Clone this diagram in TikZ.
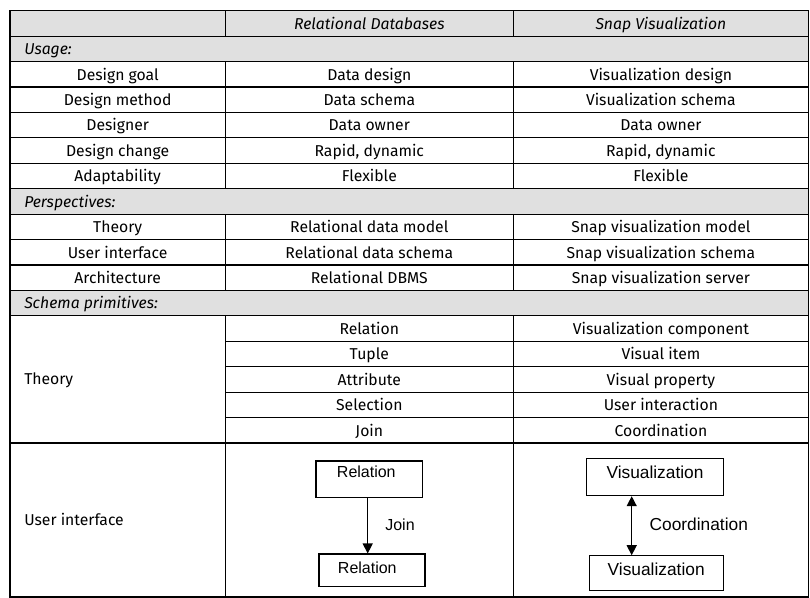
\documentclass[tikz,border=0pt]{standalone}
\usepackage{fontspec}
\setmainfont{Fira Sans}
\newfontfamily\arialf{Liberation Sans}
\usetikzlibrary{arrows.meta}
\definecolor{rowgray}{RGB}{224,224,224}
\begin{document}
\begin{tikzpicture}[x=0.75pt,y=-0.75pt,
  gridline/.style={line width=0.8pt,black},
  cell/.style={anchor=base,inner sep=0pt,font=\fontsize{11.8}{13}\selectfont},
  lcell/.style={cell,anchor=base west},
  icell/.style={cell,font=\fontsize{11.8}{13}\selectfont\itshape},
  licell/.style={icell,anchor=base west},
  box/.style={draw,line width=0.8pt,inner sep=0pt},
  boxtext/.style={inner sep=0pt,font=\arialf\fontsize{12}{14}\selectfont},
  conn/.style={line width=1pt,-{Triangle[width=7.5pt,length=7.5pt]}},
  biconn/.style={line width=1pt,{Triangle[width=7.5pt,length=7.5pt]}-{Triangle[width=7.5pt,length=7.5pt]}},
]
\useasboundingbox (0,0) rectangle (810,598);
% gray rows
\fill[rowgray] (10,10.7) rectangle (808.5,61.56);
\fill[rowgray] (10,188.71) rectangle (808.5,214.14);
\fill[rowgray] (10,290.43) rectangle (808.5,315.86);
% grid lines
\draw[gridline] (10,10.7) rectangle (808.5,597);
\foreach \y in {36.13,61.56,86.99,112.42,137.85,163.28,188.71,214.14,239.57,265.0,290.43,315.86,443.01}
  \draw[gridline] (10,\y) -- (808.5,\y);
\foreach \y in {341.29,366.72,392.15,417.58}
  \draw[gridline] (225.3,\y) -- (808.5,\y);
\foreach \x in {225.3,513.3}{
  \draw[gridline] (\x,10.7) -- (\x,36.13);
  \draw[gridline] (\x,61.56) -- (\x,188.71);
  \draw[gridline] (\x,214.14) -- (\x,290.43);
  \draw[gridline] (\x,315.86) -- (\x,597);
}
% header
\node[icell] (h2) at (369.3,29.2) {Relational Databases};
\node[icell] (h3) at (660.9,29.2) {Snap Visualization};
% Usage
\node[licell] (usage) at (24,54.63) {Usage:};
\node[cell] (a1) at (117.65,80.06) {Design goal};
\node[cell] (b1) at (369.3,80.06) {Data design};
\node[cell] (c1) at (660.9,80.06) {Visualization design};
\node[cell] (a2) at (117.65,105.49) {Design method};
\node[cell] (b2) at (369.3,105.49) {Data schema};
\node[cell] (c2) at (660.9,105.49) {Visualization schema};
\node[cell] (a3) at (117.65,130.92) {Designer};
\node[cell] (b3) at (369.3,130.92) {Data owner};
\node[cell] (c3) at (660.9,130.92) {Data owner};
\node[cell] (a4) at (117.65,156.35) {Design change};
\node[cell] (b4) at (369.3,156.35) {Rapid, dynamic};
\node[cell] (c4) at (660.9,156.35) {Rapid, dynamic};
\node[cell] (a5) at (117.65,181.78) {Adaptability};
\node[cell] (b5) at (369.3,181.78) {Flexible};
\node[cell] (c5) at (660.9,181.78) {Flexible};
% Perspectives
\node[licell] (persp) at (24,207.21) {Perspectives:};
\node[cell] (a6) at (117.65,232.64) {Theory};
\node[cell] (b6) at (369.3,232.64) {Relational data model};
\node[cell] (c6) at (660.9,232.64) {Snap visualization model};
\node[cell] (a7) at (117.65,258.07) {User interface};
\node[cell] (b7) at (369.3,258.07) {Relational data schema};
\node[cell] (c7) at (660.9,258.07) {Snap visualization schema};
\node[cell] (a8) at (117.65,283.5) {Architecture};
\node[cell] (b8) at (369.3,283.5) {Relational DBMS};
\node[cell] (c8) at (660.9,283.5) {Snap visualization server};
% Schema primitives
\node[licell] (schema) at (24,308.93) {Schema primitives:};
\node[lcell] (a9) at (24,384) {Theory};
\node[cell] (b9) at (369.3,334.36) {Relation};
\node[cell] (c9) at (660.9,334.36) {Visualization component};
\node[cell] (b10) at (369.3,359.79) {Tuple};
\node[cell] (c10) at (660.9,359.79) {Visual item};
\node[cell] (b11) at (369.3,385.22) {Attribute};
\node[cell] (c11) at (660.9,385.22) {Visual property};
\node[cell] (b12) at (369.3,410.65) {Selection};
\node[cell] (c12) at (660.9,410.65) {User interaction};
\node[cell] (b13) at (369.3,436.08) {Join};
\node[cell] (c13) at (660.9,436.08) {Coordination};
\node[lcell] (a14) at (24,525) {User interface};
% left diagram
\node[box,minimum width=80.0pt,minimum height=27.5pt] (rel1) at (369.35,479.35) {};
\node[boxtext] (rel1t) at (366.3,472) {Relation};
\node[box,minimum width=79.5pt,minimum height=24.5pt] (rel2) at (372,570.35) {};
\node[boxtext] (rel2t) at (367.3,567.7) {Relation};
\coordinate (lx) at (367.7,0);
\draw[conn] (rel1.south -| lx) -- (rel2.north -| lx);
\node[boxtext] (join) at (400,525) {Join};
% right diagram
\node[box,minimum width=102.5pt,minimum height=28pt] (vis1) at (655,477) {};
\node[boxtext,font=\arialf\fontsize{13}{15}\selectfont] (vis1t) at (655,472.3) {Visualization};
\node[box,minimum width=100.7pt,minimum height=25.7pt] (vis2) at (656.2,572.9) {};
\node[boxtext,font=\arialf\fontsize{13}{15}\selectfont] (vis2t) at (656.2,569.3) {Visualization};
\coordinate (rx) at (631.7,0);
\draw[biconn] (vis1.south -| rx) -- (vis2.north -| rx);
\node[boxtext,font=\arialf\fontsize{13}{15}\selectfont] (coord) at (698.8,524.3) {Coordination};
\end{tikzpicture}
\end{document}
